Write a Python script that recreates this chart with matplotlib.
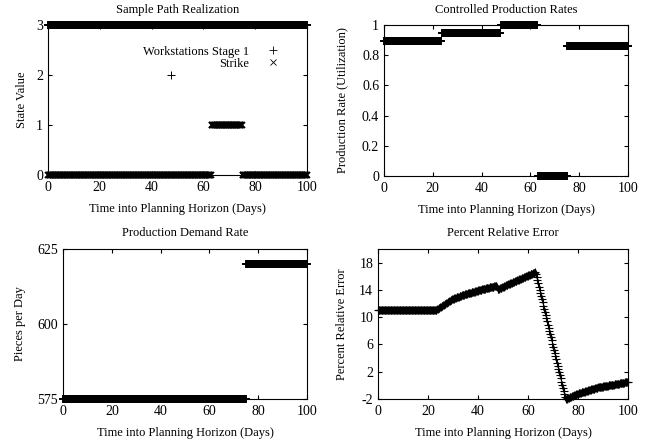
import numpy as np
import matplotlib
matplotlib.use('Agg')
import matplotlib.pyplot as plt

plt.rcParams['font.family'] = 'Liberation Serif'
plt.rcParams['font.size'] = 9
plt.rcParams['xtick.labelsize'] = 10
plt.rcParams['ytick.labelsize'] = 10
plt.rcParams['axes.titlesize'] = 9
plt.rcParams['axes.unicode_minus'] = False
plt.rcParams['xtick.direction'] = 'in'
plt.rcParams['ytick.direction'] = 'in'
plt.rcParams['xtick.top'] = True
plt.rcParams['ytick.right'] = True
plt.rcParams['xtick.major.size'] = 3
plt.rcParams['ytick.major.size'] = 3
plt.rcParams['xtick.major.pad'] = 4.5
plt.rcParams['axes.linewidth'] = 0.8

# simulation time grid (days)
t = np.linspace(0, 100, 335)

# sample path: workstations stage 1 (3 everywhere, one visit to 2)
ws_level = 3
ws_dip_time = [47.5]
ws_dip_value = [2]
# strike state: breakpoints and levels
strike_breaks = [63, 75]
strike_levels = [0, 1, 0]

# controlled production rates
rate_breaks = [23.5, 47.8, 63, 75]
rate_levels = [0.893, 0.945, 1.0, 0.0, 0.863]

# production demand rate
demand_breaks = [75]
demand_levels = [575, 620]

# percent relative error (read at key times)
err_t = [0, 23.5, 27, 30, 35, 40, 44, 47.5, 48.0, 55, 63, 75, 80, 88, 100]
err_v = [11.1, 11.1, 12.0, 12.7, 13.4, 13.9, 14.3, 14.6, 14.1, 15.3, 16.6, -2.0, -1.2, -0.3, 0.5]

def step(breaks, levels):
    return np.asarray(levels, dtype=float)[np.searchsorted(breaks, t, side='right')]

ws = np.full_like(t, ws_level, dtype=float)
strike = step(strike_breaks, strike_levels)
rate = step(rate_breaks, rate_levels)
demand = step(demand_breaks, demand_levels)
err = np.interp(t, err_t, err_v)

mk = dict(color='black', ms=5.5, mew=1.4, clip_on=False, linestyle='none')
xlab = 'Time into Planning Horizon (Days)'
fig = plt.figure(figsize=(6.69, 4.47), dpi=100)

# --- sample path
ax1 = fig.add_axes([0.0717, 0.6085, 0.3872, 0.3355])
ax1.plot(t, ws, marker='+', label='Workstations Stage 1', **mk)
ax1.plot(ws_dip_time, ws_dip_value, marker='+', color='black', ms=5.5, mew=0.7,
         linestyle='none')
ax1.plot(t, strike, marker='x', label='Strike', color='black', ms=4.2, mew=1.3,
         clip_on=False, linestyle='none')
ax1.set_xlim(0, 100)
ax1.set_ylim(0, 3)
ax1.set_yticks([0, 1, 2, 3])
ax1.set_xticks([0, 20, 40, 60, 80, 100])
ax1.set_title('Sample Path Realization', pad=9)
ax1.set_xlabel(xlab, labelpad=6)
ax1.set_ylabel('State Value', labelpad=6)
leg = ax1.legend(loc='upper right', bbox_to_anchor=(0.93, 0.905), frameon=False,
                 markerfirst=False, handlelength=1.5, handletextpad=1.2,
                 labelspacing=0.0, borderpad=0)
for h in leg.legend_handles:
    h.set_markeredgewidth(0.6)

# --- production rates
ax2 = fig.add_axes([0.574, 0.6063, 0.3647, 0.3377])
ax2.plot(t, rate, marker='+', **mk)
ax2.set_xlim(0, 100)
ax2.set_ylim(0, 1)
ax2.set_yticks([0, 0.2, 0.4, 0.6, 0.8, 1])
ax2.set_yticklabels(['0', '0.2', '0.4', '0.6', '0.8', '1'])
ax2.set_xticks([0, 20, 40, 60, 80, 100])
ax2.set_title('Controlled Production Rates', pad=9)
ax2.set_xlabel(xlab, labelpad=6)
ax2.set_ylabel('Production Rate (Utilization)', labelpad=10)

# --- demand rate
ax3 = fig.add_axes([0.0942, 0.1074, 0.3647, 0.3356])
ax3.plot(t, demand, marker='+', **mk)
ax3.set_xlim(0, 100)
ax3.set_ylim(575, 625)
ax3.set_yticks([575, 600, 625])
ax3.set_xticks([0, 20, 40, 60, 80, 100])
ax3.set_title('Production Demand Rate', pad=9)
ax3.set_xlabel(xlab, labelpad=6)
ax3.set_ylabel('Pieces per Day', labelpad=8)

# --- relative error
ax4 = fig.add_axes([0.565, 0.1074, 0.3737, 0.3356])
ax4.plot(t, err, marker='+', color='black', ms=6, mew=0.8, clip_on=False, linestyle='none')
ax4.set_xlim(0, 100)
ax4.set_ylim(-2, 20)
ax4.set_yticks([-2, 2, 6, 10, 14, 18])
ax4.set_xticks([0, 20, 40, 60, 80, 100])
ax4.set_title('Percent Relative Error', pad=9)
ax4.set_xlabel(xlab, labelpad=6)
ax4.set_ylabel('Percent Relative Error', labelpad=8)

fig.savefig('out.png', dpi=100)
